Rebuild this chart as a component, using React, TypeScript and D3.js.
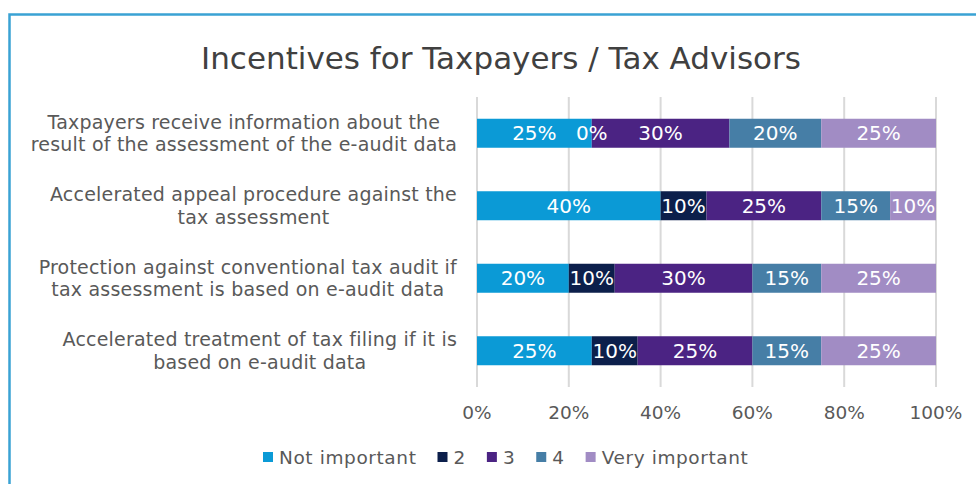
import React, { useEffect, useRef } from "react";
import * as d3 from "d3";

const title = "Incentives for Taxpayers / Tax Advisors";
const categoryLines: string[][] = [
  ["Taxpayers receive information about the", "result of the assessment of the e-audit data"],
  ["Accelerated appeal procedure against the", "tax assessment"],
  ["Protection against conventional tax audit if", "tax assessment is based on e-audit data"],
  ["Accelerated treatment of tax filing if it is", "based on e-audit data"],
];
const seriesNames = ["Not important", "2", "3", "4", "Very important"];
const notImportant = [25, 40, 20, 25];
const rating2 = [0, 10, 10, 10];
const rating3 = [30, 25, 30, 25];
const rating4 = [20, 15, 15, 15];
const veryImportant = [25, 10, 25, 25];
const tickValues = [0, 20, 40, 60, 80, 100];
const colors = ["#0b9ad6", "#0c1f4b", "#4b2383", "#467ea6", "#a18cc4"];

const W = 976;
const H = 484;
const FONT = "'DejaVu Sans', Verdana, sans-serif";

export default function App() {
  const ref = useRef<SVGSVGElement | null>(null);

  useEffect(() => {
    const svg = d3.select(ref.current);
    svg.selectAll("*").remove();

    const seriesArrays = [notImportant, rating2, rating3, rating4, veryImportant];
    const rows = categoryLines.map((_, i) => {
      const r: any = { idx: i };
      seriesNames.forEach((n, j) => (r[n] = seriesArrays[j][i]));
      return r;
    });

    const x = d3.scaleLinear().domain([0, 100]).range([477, 936]);
    const y = d3
      .scaleBand<number>()
      .domain(rows.map((r) => r.idx))
      .range([97, 387])
      .paddingInner(0.6)
      .paddingOuter(0.3);

    // frame (only top and left visible)
    svg
      .append("path")
      .attr("d", `M9.5,${H} L9.5,14.5 L${W},14.5`)
      .attr("fill", "none")
      .attr("stroke", "#3aa2d4")
      .attr("stroke-width", 2.5);

    // title
    svg
      .append("text")
      .attr("x", 501)
      .attr("y", 69)
      .attr("text-anchor", "middle")
      .attr("font-family", FONT)
      .attr("font-size", 31)
      .attr("fill", "#404040")
      .text(title);

    // gridlines
    svg
      .append("g")
      .selectAll("line")
      .data(tickValues)
      .join("line")
      .attr("x1", (d) => x(d))
      .attr("x2", (d) => x(d))
      .attr("y1", 97)
      .attr("y2", 387)
      .attr("stroke", "#d9d9d9")
      .attr("stroke-width", 2);

    // tick labels
    svg
      .append("g")
      .selectAll("text")
      .data(tickValues)
      .join("text")
      .attr("x", (d) => x(d))
      .attr("y", 419)
      .attr("text-anchor", "middle")
      .attr("font-family", FONT)
      .attr("font-size", 18.5)
      .attr("fill", "#595959")
      .text((d) => `${d}%`);

    // stacked bars
    const stack = d3.stack<any>().keys(seriesNames);
    const stacked = stack(rows);
    const bw = y.bandwidth();

    stacked.forEach((layer, j) => {
      const g = svg.append("g");
      g.selectAll("rect")
        .data(layer)
        .join("rect")
        .attr("x", (d) => x(d[0]))
        .attr("y", (d) => y(d.data.idx) as number)
        .attr("width", (d) => x(d[1]) - x(d[0]))
        .attr("height", bw)
        .attr("fill", colors[j]);
    });
    stacked.forEach((layer) => {
      svg
        .append("g")
        .selectAll("text")
        .data(layer)
        .join("text")
        .attr("x", (d) => (x(d[0]) + x(d[1])) / 2)
        .attr("y", (d) => (y(d.data.idx) as number) + bw / 2 + 7)
        .attr("text-anchor", "middle")
        .attr("font-family", FONT)
        .attr("font-size", 20)
        .attr("fill", "#ffffff")
        .text((d) => `${d[1] - d[0]}%`);
    });

    // category labels
    const rightEdge = 457;
    rows.forEach((r) => {
      const cy = (y(r.idx) as number) + bw / 2;
      const lines = categoryLines[r.idx];
      const g = svg.append("g");
      const texts = g
        .selectAll("text")
        .data(lines)
        .join("text")
        .attr("y", (_, k) => cy - 4.5 + k * 22.5)
        .attr("text-anchor", "middle")
        .attr("font-family", FONT)
        .attr("font-size", 19)
        .attr("letter-spacing", 0.2)
        .attr("fill", "#595959")
        .text((d) => d);
      let maxW = 0;
      texts.each(function () {
        maxW = Math.max(maxW, (this as SVGTextElement).getComputedTextLength());
      });
      texts.attr("x", rightEdge - maxW / 2);
    });

    // legend
    let lx = 263;
    const ly = 457;
    seriesNames.forEach((n, j) => {
      svg
        .append("rect")
        .attr("x", lx)
        .attr("y", ly - 5)
        .attr("width", 10)
        .attr("height", 10)
        .attr("fill", colors[j]);
      const t = svg
        .append("text")
        .attr("x", lx + 16)
        .attr("y", ly + 6.5)
        .attr("font-family", FONT)
        .attr("font-size", 18.5)
        .attr("letter-spacing", 0.6)
        .attr("fill", "#595959")
        .text(n);
      const tw = (t.node() as SVGTextElement).getComputedTextLength();
      lx = lx + 16 + tw + 21;
    });
  }, []);

  return (
    <svg
      ref={ref}
      width={W}
      height={H}
      style={{ position: "absolute", left: 0, top: 0, background: "#ffffff" }}
    />
  );
}
